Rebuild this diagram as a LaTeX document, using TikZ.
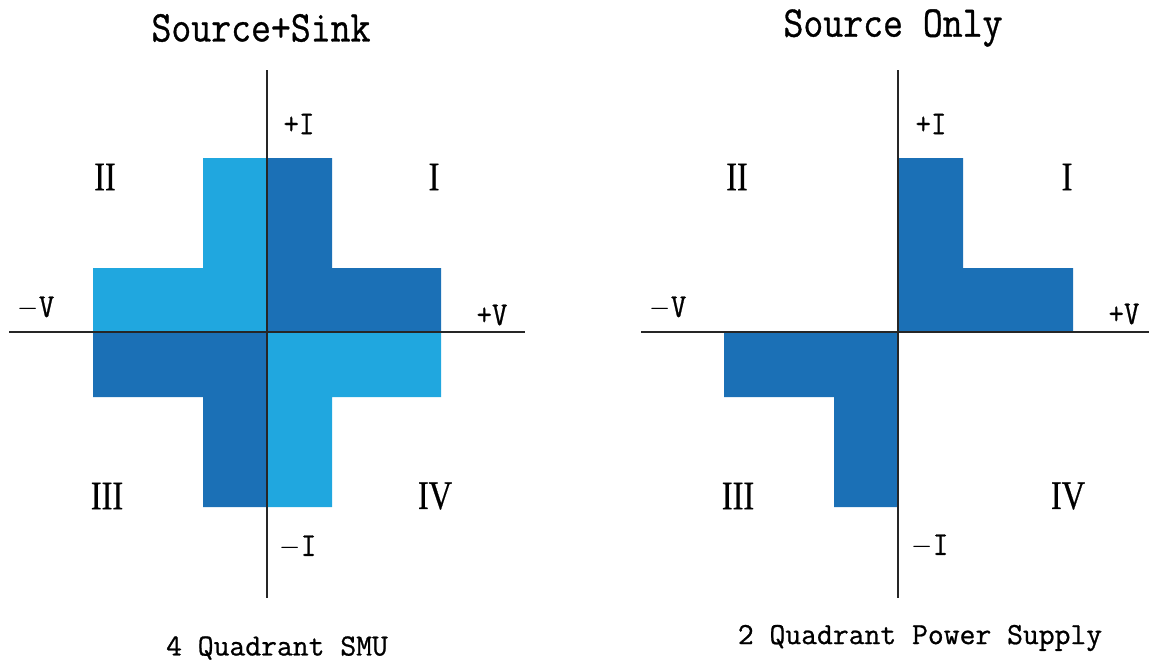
\documentclass[tikz,border=0pt]{standalone}
\usepackage{fontspec}
\usepackage{tikz}
\usetikzlibrary{positioning, calc}
\setmonofont[FakeBold=0.8]{Latin Modern Mono}
\newfontfamily\quadfont[FakeBold=0.6]{Liberation Serif}
\definecolor{qDark}{HTML}{1B70B6}
\definecolor{qLight}{HTML}{20A7DF}

\tikzset{
  axisline/.style={line width=1.1pt, black!85},
  darkq/.style={fill=qDark, draw=none},
  lightq/.style={fill=qLight, draw=none},
  numeral/.style={font=\quadfont\fontsize{23}{23}\selectfont, xscale=0.8, inner sep=0pt},
  axlabel/.style={font=\ttfamily\fontsize{19}{19}\selectfont, xscale=0.9, inner sep=0pt},
  heading/.style={font=\ttfamily\fontsize{25}{25}\selectfont, xscale=0.88, inner sep=0pt},
  caption/.style={font=\ttfamily\fontsize{17.5}{17.5}\selectfont, inner sep=0pt}
}

\begin{document}
\begin{tikzpicture}[x=0.2mm, y=-0.2mm]
    \useasboundingbox (0,0) rectangle (1149,660);
    % left panel: source + sink
    \fill[lightq] (203,158) -- (267,158) -- (267,332) -- (93,332) -- (93,268) -- (203,268) -- cycle;
    \fill[darkq] (267,158) -- (332,158) -- (332,268) -- (441,268) -- (441,332) -- (267,332) -- cycle;
    \fill[darkq] (93,332) -- (267,332) -- (267,507) -- (203,507) -- (203,397) -- (93,397) -- cycle;
    \fill[lightq] (267,332) -- (441,332) -- (441,397) -- (332,397) -- (332,507) -- (267,507) -- cycle;
    \coordinate (ltop) at (267,70);
    \coordinate (lbot) at (267,598);
    \coordinate (lwest) at (9,332);
    \coordinate (least) at (525,332);
    \draw[axisline] (ltop) -- (lbot);
    \draw[axisline] (lwest) -- (least);
    % right panel: source only
    \fill[darkq] (898,158) -- (963,158) -- (963,268) -- (1073,268) -- (1073,332) -- (898,332) -- cycle;
    \fill[darkq] (724,332) -- (898,332) -- (898,507) -- (834,507) -- (834,397) -- (724,397) -- cycle;
    \coordinate (rtop) at (898,70);
    \coordinate (rbot) at (898,598);
    \coordinate (rwest) at (641,332);
    \coordinate (reast) at (1149,332);
    \draw[axisline] (rtop) -- (rbot);
    \draw[axisline] (rwest) -- (reast);

    % quadrant numerals
    \foreach \nm/\txt/\px/\py in
      {lq2/II/105/177, lq1/I/434/177, lq3/III/107/496, lq4/IV/435/496,
       rq2/II/737/177, rq1/I/1067/177, rq3/III/738/496, rq4/IV/1068/496}
      \node[numeral] (\nm) at (\px,\py) {\txt};

    % axis labels
    \node[axlabel] (lpi) at (299,124) {+I};
    \node[axlabel] (lmi) at (298,547) {$-$I};
    \node[axlabel] (lmv) at (36,308) {$-$V};
    \node[axlabel] (lpv) at (492,315) {+V};
    \node[axlabel] (rpi) at (931,124) {+I};
    \node[axlabel] (rmi) at (930,546) {$-$I};
    \node[axlabel] (rmv) at (668,308) {$-$V};
    \node[axlabel] (rpv) at (1124,314) {+V};

    % titles and captions
    \node[heading] (ltitle) at (261,28) {Source+Sink};
    \node[heading] (rtitle) at (893,28) {Source Only};
    \node[caption] (lcap) at (277,648) {4 Quadrant SMU};
    \node[caption] (rcap) at (920,638) {2 Quadrant Power Supply};
\end{tikzpicture}
\end{document}
